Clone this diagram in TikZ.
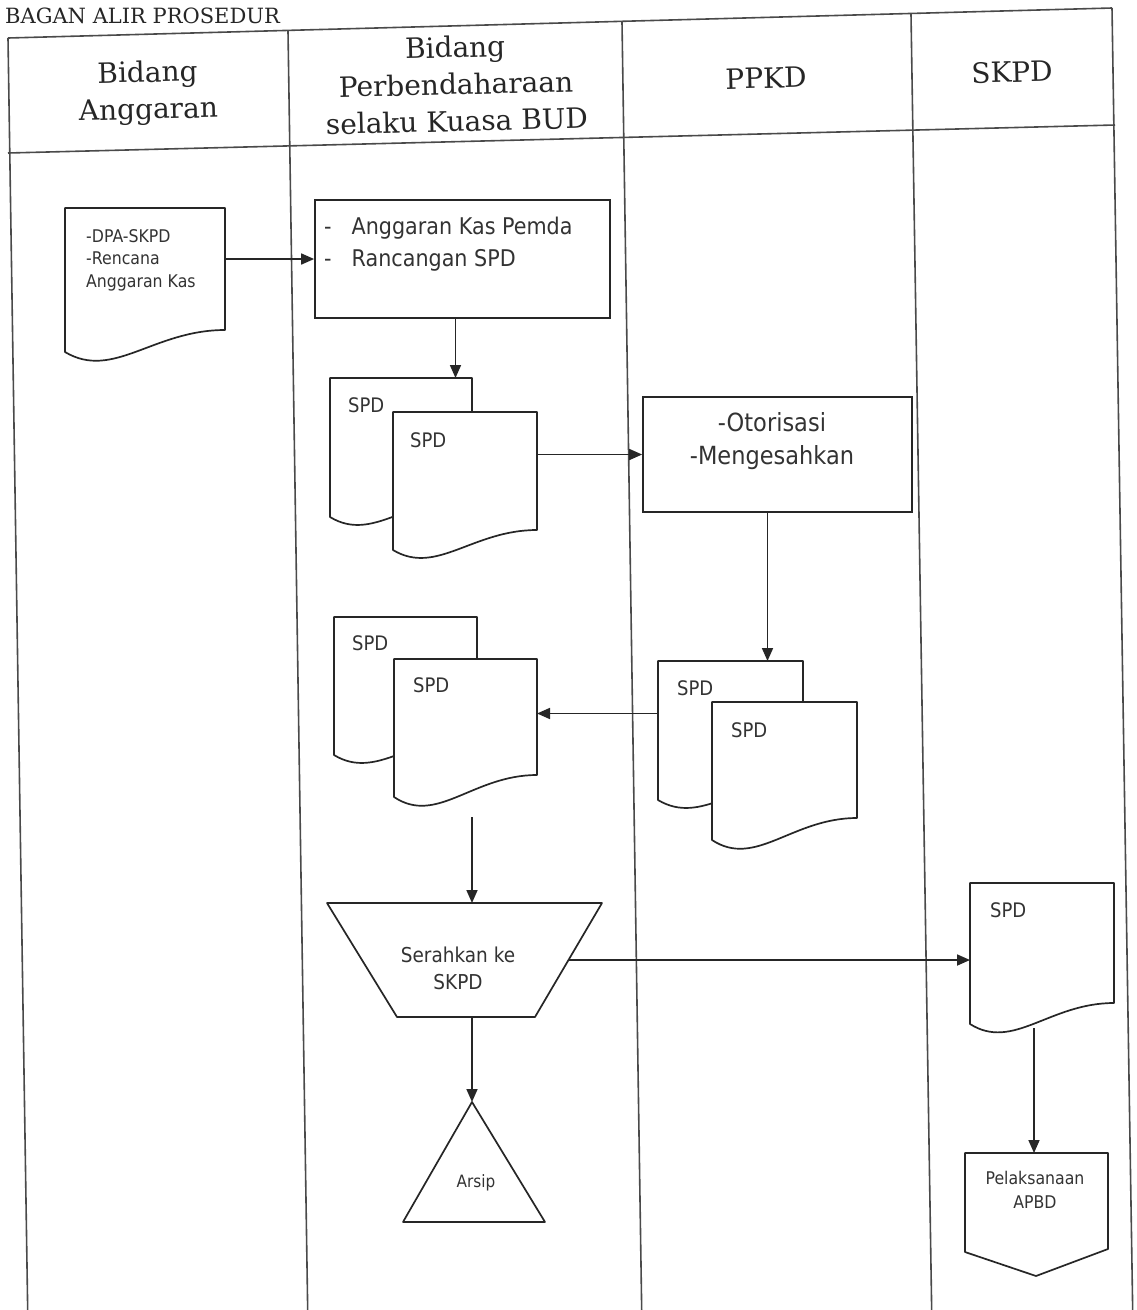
\documentclass[tikz,border=0pt]{standalone}
\usepackage{fontspec}
\setmainfont{DejaVu Serif}
\newfontfamily\docfont{DejaVu Sans}[FakeStretch=0.9]
\usetikzlibrary{arrows.meta}

\definecolor{ink}{HTML}{262626}
\definecolor{laneink}{HTML}{4A4A4A}
\definecolor{txtink}{HTML}{333333}

\tikzset{
  lane/.style={draw=laneink, line width=1.6pt},
  shapeline/.style={draw=ink, line width=1.7pt, line join=round, fill=white},
  procbox/.style={draw=ink, line width=1.7pt, fill=white, inner sep=0pt},
  arr/.style={draw=ink, line width=1.7pt, -{Triangle[length=13pt,width=11pt]}},
  frame/.style={draw=none, inner sep=0pt, outer sep=0pt},
  headtxt/.style={font=\fontsize{28}{37}\selectfont, text=ink, align=center, rotate=1.4, inner sep=0pt},
  doctxt/.style={text=txtink, inner sep=0pt},
  spdlbl/.style={doctxt, anchor=west, font=\docfont\fontsize{20}{24}\selectfont},
}

% document symbol with a wavy lower edge: name, left, top, right, lower-left y, lower-right y
\newcommand{\docshape}[6]{%
  \pgfmathsetmacro{\dsw}{#4-#2}%
  \pgfmathsetmacro{\dsk}{1.3*(#5-#6)}%
  \draw[shapeline] (#2,#3) -- (#4,#3) -- (#4,#6)
     .. controls ({#2+0.55*\dsw},#6) and ({#2+0.3*\dsw},{#5+\dsk}) .. (#2,#5) -- cycle;
  \node[frame, minimum width={(#4-#2)*1pt}, minimum height={(#5-#3)*1pt}] (#1) at ({(#2+#4)/2},{(#3+#5)/2}) {};
}

\begin{document}
\begin{tikzpicture}[x=1pt,y=-1pt]
\useasboundingbox (0,0) rectangle (1136,1310);
\clip (0,0) rectangle (1136,1310);
\fill[white] (0,0) rectangle (1136,1310);

% page heading
\node[anchor=base west, inner sep=0pt, font=\fontsize{21}{21}\selectfont, text=ink] (title) at (5,23) {BAGAN ALIR PROSEDUR};

% swimlane grid
\draw[lane] (8,38) -- (1112,8);
\draw[lane] (8,153) -- (1115,125);
\draw[lane] (8,38) -- (28,1330);
\draw[lane] (288,31) -- (308,1330);
\draw[lane] (622,22) -- (642,1330);
\draw[lane] (911,14) -- (932,1330);
\draw[lane] (1112,8) -- (1133,1330);

% lane headings
\node[headtxt] (h1) at (148,93) {Bidang\\Anggaran};
\node[headtxt] (h2) at (456,84) {Bidang\\Perbendaharaan\\selaku Kuasa BUD};
\node[headtxt] (h3) at (766,78) {PPKD};
\node[headtxt] (h4) at (1012,72) {SKPD};

% Bidang Anggaran
\docshape{dpa}{65}{208}{225}{352}{330}
\node[doctxt, anchor=west, align=left, font=\docfont\fontsize{17.5}{22.5}\selectfont] (dpatxt) at (86,260) {-DPA-SKPD\\-Rencana\\Anggaran Kas};

% Bidang Perbendaharaan
\node[procbox, minimum width=295pt, minimum height=118pt] (kas) at (462.5,259) {};
\node[doctxt, anchor=west, align=left, font=\docfont\fontsize{23}{32}\selectfont] (kastxt) at (324,244) {-\hspace{20pt}Anggaran Kas Pemda\\-\hspace{20pt}Rancangan SPD};

\docshape{spdA}{330}{378}{472}{517}{497}
\node[spdlbl] (spdAt) at (348,405) {SPD};
\docshape{spdB}{393}{412}{537}{550}{530}
\node[spdlbl] (spdBt) at (410,440) {SPD};

\docshape{spdC}{334}{617}{477}{755}{735}
\node[spdlbl] (spdCt) at (352,643) {SPD};
\docshape{spdD}{394}{659}{537}{797}{775}
\node[spdlbl] (spdDt) at (413,685) {SPD};

\draw[shapeline] (327,903) -- (602,903) -- (535,1017) -- (397,1017) -- cycle;
\node[frame, minimum width=206.5pt, minimum height=114pt] (trap) at (465.25,960) {};
\node[doctxt, align=center, font=\docfont\fontsize{20.5}{27}\selectfont] (traptxt) at (458,968) {Serahkan ke\\SKPD};

\draw[shapeline] (472,1102) -- (545,1222) -- (403,1222) -- cycle;
\node[frame, minimum width=142pt, minimum height=120pt] (arsip) at (472,1162) {};
\node[doctxt, font=\docfont\fontsize{17}{20}\selectfont] (arsiptxt) at (476,1183) {Arsip};

% PPKD
\node[procbox, minimum width=269pt, minimum height=115pt] (oto) at (777.5,454.5) {};
\node[doctxt, align=center, font=\docfont\fontsize{25}{33}\selectfont] (ototxt) at (772,441.5) {-Otorisasi\\-Mengesahkan};

\docshape{spdE}{658}{661}{803}{800}{780}
\node[spdlbl] (spdEt) at (677,688) {SPD};
\docshape{spdF}{712}{702}{857}{840}{818}
\node[spdlbl] (spdFt) at (731,730) {SPD};

% SKPD
\docshape{skpd}{970}{883}{1114}{1024}{1003}
\node[spdlbl] (skpdt) at (990,910) {SPD};

\draw[shapeline] (965,1153) -- (1108,1153) -- (1108,1249) -- (1036,1276) -- (965,1252) -- cycle;
\node[frame, minimum width=143pt, minimum height=123pt] (pel) at (1034,1214.5) {};
\node[doctxt, align=center, font=\docfont\fontsize{17.5}{24}\selectfont] (peltxt) at (1035,1190) {Pelaksanaan\\APBD};

% flow
\draw[arr] (dpa.east |- kas.west) -- (kas.west);
\draw[arr] ([xshift=-7pt]kas.south) -- ([xshift=-7pt]kas.south |- spdA.north);
\draw[arr] (spdB.east |- oto.west) -- (oto.west);
\draw[arr] ([xshift=-10pt]oto.south) -- ([xshift=-10pt]oto.south |- spdE.north);
\draw[arr] ([yshift=17pt]spdE.west) -- ([yshift=17pt]spdE.west -| spdD.east);
\draw[arr, shorten <=20pt] (arsip.north |- spdD.south) -- (arsip.north |- trap.north);
\draw[arr] (trap.east) -- (trap.east -| skpd.west);
\draw[arr] (trap.south -| arsip.north) -- (arsip.north);
\draw[arr, shorten <=4pt] (pel.north |- skpd.south) -- (pel.north);
\end{tikzpicture}
\end{document}
